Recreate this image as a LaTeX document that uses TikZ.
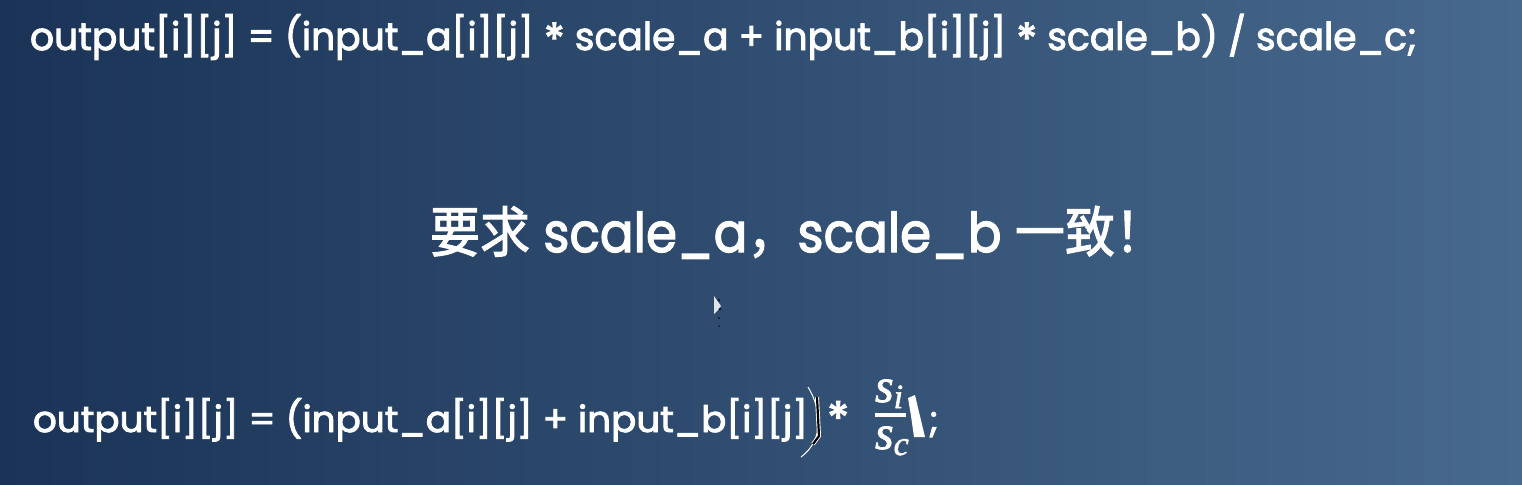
\documentclass[tikz,border=0pt]{standalone}
\usepackage{fontspec}
\setmainfont{Poppins}[FakeBold=2.4]
\newfontfamily\cjk{Noto Sans CJK SC}[FakeBold=2]
\newfontfamily\fracfont{Liberation Serif}[FakeBold=1.5]
\definecolor{bgL}{HTML}{1A3356}
\definecolor{bgM}{HTML}{2B4A70}
\definecolor{bgR}{HTML}{47698D}
\newsavebox\fitbox
\newcommand{\fitto}[2]{\sbox\fitbox{#2}\pgfmathsetmacro\fitratio{#1/\the\wd\fitbox}\scalebox{\fitratio}[1]{\usebox\fitbox}}
\newcommand{\fracvar}[1]{{\fracfont\itshape\fontsize{24}{26}\selectfont s}\raisebox{-3pt}{\fracfont\itshape\fontsize{17}{18}\selectfont #1}}
\tikzset{
  txt/.style={inner sep=0pt, outer sep=0pt, anchor=base west, text=white},
}
\begin{document}
\begin{tikzpicture}[x=0.5pt,y=-0.5pt]
\shade[left color=bgL, middle color=bgM, right color=bgR] (0,0) rectangle (1522,484);
\useasboundingbox (0,0) rectangle (1522,484);
% top formula
\node[txt] (top) at (30,50) {\fontsize{19.2}{23}\selectfont\fitto{693.5pt}{output[i][j] = (input\_a[i][j] \raisebox{-2.5pt}{\fontsize{22}{24}\selectfont *} scale\_a + input\_b[i][j] \raisebox{-2.5pt}{\fontsize{22}{24}\selectfont *} scale\_b) / scale\_c;}};
% middle statement
\node[txt] (mid) at (430,252) {\fontsize{27.4}{33}\selectfont\fitto{367.5pt}{{\cjk 要求} scale\_a{\cjk ，}scale\_b {\cjk 一致！}}};
% bottom formula
\node[txt] (bot) at (33,432) {\fontsize{18.2}{22}\selectfont\fitto{387.5pt}{output[i][j] = (input\_a[i][j] + input\_b[i][j]}};
\node[txt] (star) at (827,435) {\fontsize{23}{24}\selectfont *};
\node[txt] (num) at (875,402) {\fracvar{i}};
\node[txt] (den) at (875,449) {\fracvar{c}};
\coordinate (barL) at (875,415);
\coordinate (barR) at (906,415);
\draw[white, line width=1.6pt] (barL) -- (barR);
\node[txt] (semi) at (929,432) {\fontsize{18.2}{22}\selectfont ;};
% hand-drawn marks
\draw[white, line width=0.5pt] (808,387) .. controls (822,410) and (824,440) .. (801,457);
\draw[white, line width=2pt] (817,397) -- (819,436) -- (813,444);
\draw[black, line width=1.1pt] (817,397) -- (819,436) -- (813,444);
\fill[white] (908,398) -- (915,395) -- (919,412) -- (925,437) -- (914,437) -- (911,416) -- cycle;
% cursor
\fill[white!85!bgM] (714,296) -- (714,314) -- (718,310) -- (721,306) -- cycle;
\fill[black!60!bgM] (719,300) circle (1.5) (720,309) circle (1.5) (719,318) circle (1.2) (719,326) circle (1);
\end{tikzpicture}
\end{document}
